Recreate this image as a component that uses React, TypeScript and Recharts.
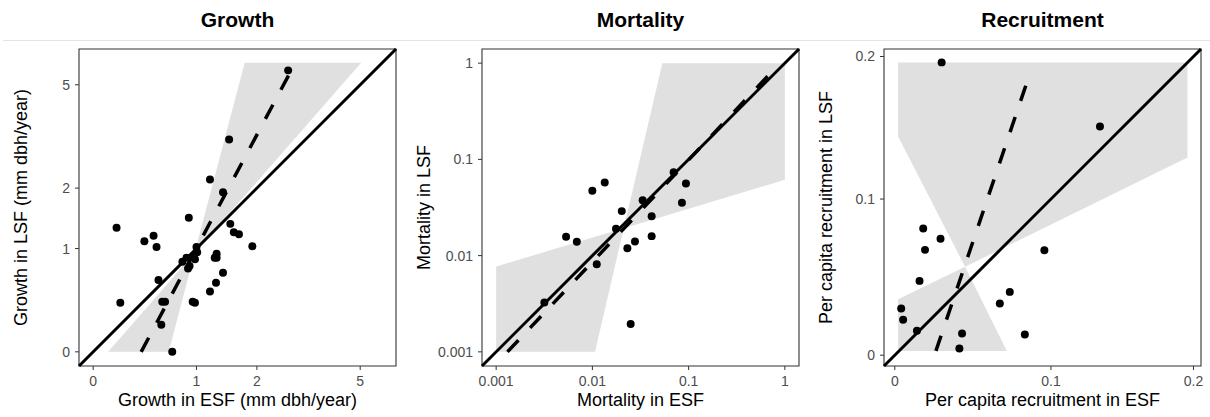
import { ComposedChart, XAxis, YAxis, ZAxis, Scatter, Line, Area, ReferenceLine, ReferenceArea, Label } from "recharts"

// Growth (mm dbh/year): early vs late successional forest, one point per species
const growthEsf = [0.17, 0.2, 0.41, 0.5, 0.53, 0.55, 0.59, 0.62, 0.58, 0.7, 0.82, 0.87, 0.89, 0.91, 0.9, 0.95, 0.98, 0.98, 1.0, 1.01, 1.19, 1.19, 1.26, 1.29, 1.29, 1.28, 1.39, 1.39, 1.49, 1.51, 1.57, 1.66, 1.91, 2.7]
const growthLsf = [1.3, 0.39, 1.1, 1.18, 1.02, 0.62, 0.4, 0.4, 0.2, 0, 0.83, 0.88, 0.75, 0.78, 1.46, 0.4, 0.39, 0.86, 1.02, 0.95, 2.18, 0.5, 0.88, 0.93, 0.88, 0.59, 0.7, 1.92, 3.16, 1.36, 1.23, 1.2, 1.03, 5.61]
const growthFitEsf = [0.38, 2.86]
const growthFitLsf = [0, 5.88]
const growthBandEsf = [0.106, 0.661, 0.98, 1.764, 5.04]
const growthBandLow = [0, 0, 0.96, 1.848, 5.96]
const growthBandHigh = [0, 0.592, 0.96, 5.96, 5.96]
const growthTicks = [0, 1, 2, 5]

// Mortality (annual rate)
const mortEsf = [0.00317, 0.00533, 0.00689, 0.00999, 0.01344, 0.0111, 0.0176, 0.0202, 0.0231, 0.0277, 0.025, 0.0333, 0.0413, 0.0413, 0.0699, 0.0852, 0.0938]
const mortLsf = [0.00325, 0.01567, 0.0139, 0.0471, 0.0574, 0.00815, 0.01897, 0.029, 0.01196, 0.014, 0.00195, 0.0377, 0.0257, 0.01594, 0.0737, 0.0354, 0.0561]
const mortFitEsf = [0.00131, 0.852]
const mortFitLsf = [0.001, 0.953]
const mortBandEsf = [0.001, 0.01066, 0.0212, 0.0533, 1]
const mortBandLow = [0.001, 0.001, 0.0193, 0.0254, 0.0613]
const mortBandHigh = [0.0077, 0.0157, 0.0193, 1, 1]
const mortTicks = [0.001, 0.01, 0.1, 1]

// Per capita recruitment
const recEsf = [0.029, 0.1334, 0.0956, 0.0175, 0.0283, 0.0186, 0.0152, 0.0039, 0.0051, 0.0136, 0.0419, 0.0402, 0.0662, 0.0727, 0.0826]
const recLsf = [0.1957, 0.1498, 0.0662, 0.0804, 0.0736, 0.0664, 0.0464, 0.0289, 0.0218, 0.015, 0.0133, 0.0041, 0.0321, 0.0394, 0.0127]
const recFitEsf = [0.0254, 0.0858]
const recFitLsf = [0.00263, 0.1871]
const recUpperEsf = [0.00202, 0.0438, 0.1956]
const recUpperLow = [0.1428, 0.0555, 0.1283]
const recUpperHigh = [0.1957, 0.1957, 0.1957]
const recLowerEsf = [0.00202, 0.0438, 0.0708]
const recLowerLow = [0.00263, 0.00263, 0.00263]
const recLowerHigh = [0.0348, 0.0555, 0.00263]
const recTicks = [0, 0.1, 0.2]

type Band = { esf: number[]; low: number[]; high: number[] }

interface PanelProps {
  left: number
  title: string
  xTitle: string
  yTitle: string
  tf: (v: number) => number
  domain: [number, number]
  ticks: number[]
  esf: number[]
  lsf: number[]
  fitEsf: number[]
  fitLsf: number[]
  bands: Band[]
}

function Panel({ left, title, xTitle, yTitle, tf, domain, ticks, esf, lsf, fitEsf, fitLsf, bands }: PanelProps) {
  const points = esf.map((v, i) => ({ x: tf(v), y: tf(lsf[i]) }))
  const fit = fitEsf.map((v, i) => ({ x: tf(v), y: tf(fitLsf[i]) }))
  const tickPos = ticks.map(tf)
  const fmt = (_: number, i: number) => String(ticks[i])
  const [d0, d1] = domain

  return (
    <div style={{ position: "absolute", left, top: 0, width: 400, height: 417 }}>
      <div
        style={{
          position: "absolute",
          left: 79,
          width: 317,
          top: 8,
          lineHeight: "24px",
          textAlign: "center",
          fontSize: 21,
          fontWeight: "bold",
          color: "#000",
        }}
      >
        {title}
      </div>
      <div style={{ position: "absolute", left: 0, top: 44 }}>
        <ComposedChart width={400} height={373} margin={{ top: 5, right: 4, bottom: 0, left: 0 }}>
          <XAxis
            type="number"
            dataKey="x"
            domain={domain}
            allowDataOverflow
            ticks={tickPos}
            interval={0}
            tickFormatter={fmt}
            height={51}
            tickSize={4}
            tickMargin={6}
            axisLine={false}
            tickLine={{ stroke: "#333" }}
            tick={{ fill: "#4d4d4d", fontSize: 14 }}
          >
            <Label value={xTitle} position="insideBottom" offset={11} style={{ fontSize: 18, fill: "#000" }} />
          </XAxis>
          <YAxis
            type="number"
            dataKey="y"
            domain={domain}
            allowDataOverflow
            ticks={tickPos}
            interval={0}
            tickFormatter={fmt}
            width={79}
            tickSize={4}
            tickMargin={5}
            axisLine={false}
            tickLine={{ stroke: "#333" }}
            tick={{ fill: "#4d4d4d", fontSize: 14 }}
          >
            <Label
              value={yTitle}
              angle={-90}
              position="insideLeft"
              offset={21}
              style={{ fontSize: 18, fill: "#000", textAnchor: "middle" }}
            />
          </YAxis>
          <ZAxis range={[50, 50]} />
          {bands.map((b, k) => (
            <Area
              key={k}
              data={b.esf.map((v, i) => ({ x: tf(v), range: [tf(b.low[i]), tf(b.high[i])] }))}
              dataKey="range"
              type="linear"
              stroke="none"
              fill="#e0e0e0"
              fillOpacity={1}
              isAnimationActive={false}
            />
          ))}
          <ReferenceLine
            segment={[{ x: d0, y: d0 }, { x: d1, y: d1 }]}
            stroke="#000"
            strokeWidth={3}
            ifOverflow="visible"
          />
          <Line
            data={fit}
            dataKey="y"
            type="linear"
            stroke="#000"
            strokeWidth={3.5}
            strokeDasharray="16 17"
            dot={false}
            activeDot={false}
            isAnimationActive={false}
          />
          <Scatter data={points} dataKey="y" fill="#000" isAnimationActive={false} />
          <ReferenceArea x1={d0} x2={d1} y1={d0} y2={d1} fill="none" stroke="#333" strokeWidth={1.1} ifOverflow="visible" />
        </ComposedChart>
      </div>
    </div>
  )
}

export default function App() {
  return (
    <div
      style={{
        position: "absolute",
        left: 0,
        top: 0,
        width: 1210,
        height: 417,
        background: "#fff",
        fontFamily: "'Liberation Sans', Arial, sans-serif",
      }}
    >
      <div style={{ position: "absolute", left: 3, top: 40, width: 1207, height: 1, background: "#e3e3e3" }} />
      <Panel
        left={0}
        title="Growth"
        xTitle="Growth in ESF (mm dbh/year)"
        yTitle="Growth in LSF (mm dbh/year)"
        tf={Math.log1p}
        domain={[-0.095, 2.032]}
        ticks={growthTicks}
        esf={growthEsf}
        lsf={growthLsf}
        fitEsf={growthFitEsf}
        fitLsf={growthFitLsf}
        bands={[{ esf: growthBandEsf, low: growthBandLow, high: growthBandHigh }]}
      />
      <Panel
        left={403}
        title="Mortality"
        xTitle="Mortality in ESF"
        yTitle="Mortality in LSF"
        tf={Math.log10}
        domain={[-3.147, 0.147]}
        ticks={mortTicks}
        esf={mortEsf}
        lsf={mortLsf}
        fitEsf={mortFitEsf}
        fitLsf={mortFitLsf}
        bands={[{ esf: mortBandEsf, low: mortBandLow, high: mortBandHigh }]}
      />
      <Panel
        left={805}
        title="Recruitment"
        xTitle="Per capita recruitment in ESF"
        yTitle="Per capita recruitment in LSF"
        tf={Math.log1p}
        domain={[-0.0066, 0.1869]}
        ticks={recTicks}
        esf={recEsf}
        lsf={recLsf}
        fitEsf={recFitEsf}
        fitLsf={recFitLsf}
        bands={[
          { esf: recUpperEsf, low: recUpperLow, high: recUpperHigh },
          { esf: recLowerEsf, low: recLowerLow, high: recLowerHigh },
        ]}
      />
    </div>
  )
}
